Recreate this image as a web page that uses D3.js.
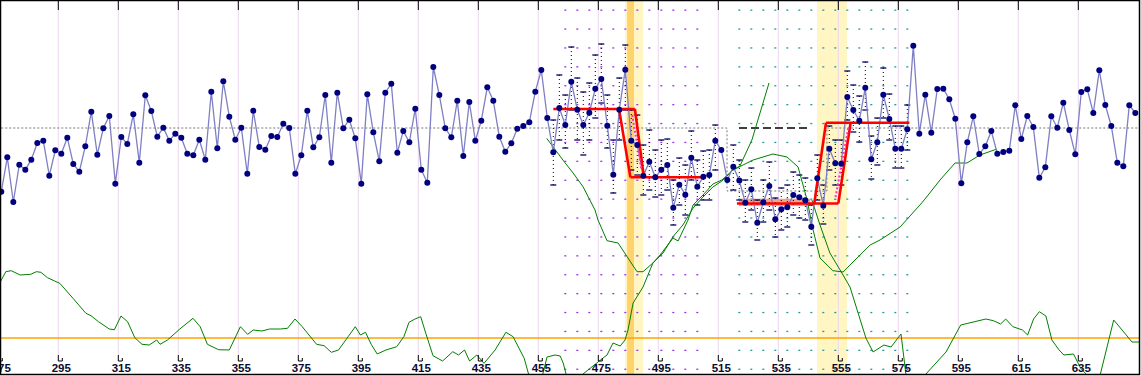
<!DOCTYPE html>
<html>
<head>
<meta charset="utf-8">
<script src="https://cdn.jsdelivr.net/npm/d3@7"></script>
<style>
body{margin:0;background:#fff}
svg{display:block}
.lbl{font-family:"Liberation Sans",Arial,sans-serif;font-weight:bold;font-size:11.5px;fill:#0a0a30}
</style>
</head>
<body>
<script>
// observations, one every 2 units starting at 275
var firstX=275, stepX=2
var obs=[0.83,4.27,-0.2,3.53,3.03,4.03,5.7,5.93,2.43,4.97,
4.63,6.23,3.6,2.83,5.37,8.83,4.53,7.17,8.4,1.63,
6.3,5.6,8.57,3.73,10.47,8.9,6.33,7.23,5.93,6.63,
6.23,4.63,4.47,6.03,4.03,10.83,5.17,11.87,8.33,6.03,
7.23,2.63,8.93,5.3,5.03,6.4,6.3,7.63,7.2,2.63,
4.47,8.93,5.27,6.27,10.5,3.73,10.73,7.17,8.03,6.17,
1.63,10.57,6.77,3.87,10.73,11.63,4.73,6.9,5.77,9.13,
3.03,1.73,13.3,10.5,7.17,6.27,9.93,4.4,9.8,5.93,
7.93,11.27,9.93,6.33,4.83,5.67,7.13,7.4,7.77,10.83,
13,8.2,4.77,9.2,7.5,11.83,9.03,7.5,8.73,11.13,
12.1,7.43,2.53,9.03,13.03,5.93,5.5,2.43,3.83,2.27,
3.03,3.5,-0.77,1.53,0.53,4.23,1.33,2.33,2.5,5.93,
5,2,3.33,1.95,-0.27,1.07,-2.27,-0.23,1.4,-1.93,
-0.93,-0.73,0.5,0.27,-0.03,-2.67,2.17,-0.57,5.13,3.67,
3.63,10.3,9,7.93,11.23,4.07,5.77,10.53,8.1,5.13,
5.13,7.07,15.43,6.63,10.53,6.73,11.1,11.13,10.07,8.13,
1.67,5.77,8.37,4.6,5.37,6.9,4.63,4.8,4.93,9.47,
6.1,8.4,7.3,2.23,3.27,8.37,7.23,9.73,7,4.57,
10.8,11.07,8.7,12.97,9.5,7.4,3.73,3.37,9.47,8.7]

// ranges around the points near the two shifts (first index, highs, lows)
var rangeStart1=92
var rangeHi1=[8,12.5,10.5,15.3,12.2,10.8,11.7,14.5,15.6,10.5,6,12.2,15.5,9,8.5,5.5,7,5,6,6.1,2,4.2,3.5,6.9,4,4.9,5,7.5]
var rangeLo1=[1.5,6,5.2,9,6,4.5,6,8.2,9.7,5.2,0.7,6,9,3,2.5,0.5,1,0.3,0.5,1,-2.5,-0.5,-1.5,2,-0.5,0,0,3]
var rangeStart2=122
var rangeHi2=[5.5,4,2,3.2,0,2,3.8,0.2,1.2,1.5,2.8,2.5,2.2,-0.5,4.5,1.5,7.4,6,6,12.9,11.5,10.4,13.8,6.4,8.2,13.2,10.6,7.4,7.4,9.5]
var rangeLo2=[1,0,-2.2,-1,-4,-2.2,-1,-3.7,-3,-2.7,-1.5,-1.8,-2,-4.5,0,-2.4,3,1.5,1.5,8,6.8,5.8,9,2.1,3.5,8.2,6,3.2,3.2,5]

var tickValues=d3.range(275,636,20)

// overall mean, with the dip for the low segment
var meanLine=[[275,7.2],[516.9,7.2],[516.9,0.9],[550.2,0.9],[550.2,7.2],[655,7.2]]
var oldMean=[[520.9,7.2],[544.9,7.2]]
var threshold=-13.8

// green statistic line (clipped at the frame)
var statA=[[274.6,-8.23],[276.5,-7.17],[278.3,-7.07],[281.3,-7.5],[284.8,-7.43],[286.7,-7.17],[288.2,-7.23],
[290.4,-7.77],[292.8,-8.1],[294.5,-8.33],[298.9,-9.83],[303.2,-11.33],[304.9,-11.57],[307.4,-12.17],[311,-12.9],
[312.7,-12.97],[314.9,-11.6],[317.1,-12.17],[319.5,-13.77],[321.9,-14.43],[324.3,-14.5],[326.8,-14],[327.9,-14.43],
[330.4,-14],[334.5,-12.9],[338.9,-11.83],[341.3,-12.67],[343.7,-14.43],[347.4,-14.97],[351,-15],[354.7,-12.67],
[357.1,-13.43],[359,-13],[361.9,-13.1],[364.4,-12.9],[368,-12.9],[370.4,-12.83],[372.9,-11.9],[375.3,-12.67],
[380.1,-14.43],[382.6,-14.57],[385,-15.23],[387.4,-15],[390.6,-13.67],[393,-12.67],[394.7,-13.5],[396.4,-13.23],
[398.3,-14.43],[400.3,-15.4],[403.2,-15],[406.8,-14.67],[409.2,-13.67],[410.9,-12.23],[412.9,-11.9],[414.8,-11.67],
[416.5,-13.33],[418.9,-15.57],[422.1,-16.1],[425.5,-15.17],[427.4,-15.5],[429.4,-15],[431.1,-16.1],[433.5,-15.5],
[435.9,-16.33],[439.6,-15],[443.2,-13.23],[445.6,-13.67],[449.3,-15.83],[451.3,-18],[454.6,-18.5],[456.9,-15.7],
[459.6,-15.5],[461.3,-15.6],[462.3,-16.3],[464.6,-19],[467.3,-19],[468.9,-17.4],[473.9,-16.2],[476.9,-15.5],
[478.9,-14.3],[481.3,-14.6],[482.9,-14],[483.9,-13],[485.6,-10.3],[488.9,-8.7],[492.2,-6.3],[494.6,-5.5],
[498.9,-3.8],[500.6,-4.1],[503.9,-2],[505.6,-0.5],[508.9,0.5],[512.2,1.6],[515.2,2],[518.9,3],[521.2,3.4],
[525.2,6],[527.9,8.7],[530.9,11.7]]
var statB=[[545.2,0],[547.9,-2.5],[551.2,-5.3],[554.6,-7],[557.9,-8.7],[563.2,-13.8],[565.6,-15.2],[569.2,-14.5],
[571.6,-14.7],[574.9,-13.4],[576.6,-17.6],[578.6,-20],[581.2,-20],[582.6,-17.6],[589.9,-15.2],[594.8,-12.5],
[597.2,-12.33],[603.2,-11.9],[605.7,-12.07],[608.1,-12.4],[609.8,-11.9],[612.2,-12.67],[615.4,-13],[617.1,-13.5],
[619.1,-11.9],[621,-11.17],[623.2,-11.6],[625.2,-14],[627.6,-15],[629.2,-15.5],[632.4,-15.4],[634.8,-16.83],
[637.2,-17.6],[639.2,-19.5],[641.2,-17.6],[645.8,-12],[648.6,-13],[651.9,-14.2],[654.9,-14.2]]
var smooth=[[456.8,6.17],[458.9,5.33],[462.2,4],[465.6,2.7],[468.9,1.33],[472.9,-1],[473.9,-2],[476.9,-4.07],
[480.6,-4.3],[483.6,-5.67],[486.9,-7.17],[488.9,-7.17],[492.2,-6.3],[495.6,-5.3],[498.9,-3.67],[502.2,-2.5],
[505.6,-0.8],[508.9,0.3],[512.2,1.3],[515.2,1.9],[518.9,3],[525.6,4],[532.2,4.6],[536.9,4.3],[540.6,3.3],
[543.6,0],[545.6,-3],[547.9,-5.8],[552.2,-7.07],[555.6,-7.2],[558.9,-6.2],[564.6,-4.5],[567.9,-4],[574.6,-2.7],
[581.2,-0.5],[582.9,0.1],[587.9,2],[592.9,3.7],[596.9,3.7],[601.2,4.5],[606.9,5.1]]

// fitted shifts (red)
var fit1=[[[459.0,9.1],[486.2,9.1]],[[480.9,9.1],[484.7,2.27]],[[486.2,9.1],[489.2,2.27]],[[484.7,2.27],[509.6,2.27]]]
var fit2=[[[520.2,-0.35],[554,-0.35]],[[546,-0.35],[549.9,7.73]],[[554,-0.35],[558.1,7.73]],[[549.9,7.73],[577.7,7.73]]]
var shiftPaths=[[[485.3,8.5],[488.4,3.0]],[[557.3,7.17],[552.9,0]]]
var segBar={x0:520.9,x1:544.7,v0:0.13,v1:-0.6}

// change point bands
var bands=[{x0:482.9,x1:488.9,c:"#fff6c4"},{x0:483.6,x1:485.9,c:"#ffd36b"},{x0:546.9,x1:556.9,c:"#fff6c4"}]
var zones=[{k0:94,k1:117,c:"#9b30f0"},{k0:123,k1:151,c:"#1e9c9c"}]

var W=1141,H=376
var x=d3.scaleLinear().domain([275,655]).range([1.3,1141.3])
var y=d3.scaleLinear().domain([-17.6,20]).range([376,0])

var svg=d3.select("body").append("svg").attr("width",W).attr("height",H)
svg.append("rect").attr("width",W).attr("height",H).attr("fill","#fff")

svg.append("defs").append("clipPath").attr("id","plot")
  .append("rect").attr("x",1).attr("y",1).attr("width",W-3).attr("height",H-3)

var g=svg.append("g").attr("clip-path","url(#plot)")

bands.forEach(function(b){
  g.append("rect").attr("x",x(b.x0)).attr("y",0).attr("width",x(b.x1)-x(b.x0)).attr("height",H).attr("fill",b.c)
})

// grid
tickValues.forEach(function(t){
  g.append("line").attr("x1",x(t)-3).attr("x2",x(t)-3).attr("y1",0).attr("y2",355)
   .attr("stroke","#ecd6ef").attr("stroke-width",1)
})

// dotted zones
var rows=d3.range(9.5,376,18.9)
zones.forEach(function(z){
  for(var k=z.k0;k<=z.k1;k+=2){
    var cx=x(firstX+stepX*k)
    rows.forEach(function(r){
      g.append("rect").attr("x",cx-1).attr("y",r).attr("width",2).attr("height",1.3).attr("fill",z.c)
    })
  }
})

var line=d3.line().x(function(d){return x(d[0])}).y(function(d){return y(d[1])})

g.append("line").attr("x1",0).attr("x2",W).attr("y1",y(threshold)).attr("y2",y(threshold))
 .attr("stroke","#ffa500").attr("stroke-width",1.5)

g.append("path").attr("d",line(meanLine)).attr("fill","none").attr("stroke","#777").attr("stroke-dasharray","2,2")
g.append("path").attr("d",line(oldMean)).attr("fill","none").attr("stroke","#000").attr("stroke-width",1.3).attr("stroke-dasharray","8,4")

g.append("rect").attr("x",x(segBar.x0)).attr("y",y(segBar.v0)).attr("width",x(segBar.x1)-x(segBar.x0))
 .attr("height",y(segBar.v1)-y(segBar.v0)).attr("fill","#e8967a").attr("opacity",0.85)

// ranges
function drawRanges(start,hi,lo){
  hi.forEach(function(h,i){
    var cx=x(firstX+stepX*(start+i))
    g.append("line").attr("x1",cx).attr("x2",cx).attr("y1",y(h)).attr("y2",y(lo[i]))
     .attr("stroke","#000").attr("stroke-width",1).attr("stroke-dasharray","1,3")
    ;[h,lo[i]].forEach(function(v){
      g.append("line").attr("x1",cx-3).attr("x2",cx+3).attr("y1",y(v)).attr("y2",y(v))
       .attr("stroke","#000060").attr("stroke-width",1.3)
    })
  })
}
drawRanges(rangeStart1,rangeHi1,rangeLo1)
drawRanges(rangeStart2,rangeHi2,rangeLo2)

;[statA,statB,smooth].forEach(function(s){
  g.append("path").attr("d",line(s)).attr("fill","none").attr("stroke","#008000").attr("stroke-width",1)
})

var pts=obs.map(function(v,i){return [firstX+stepX*i,v]})
g.append("path").attr("d",line(pts)).attr("fill","none").attr("stroke","#7f7fc4").attr("stroke-width",1.3)

fit1.concat(fit2).forEach(function(s){
  g.append("path").attr("d",line(s)).attr("fill","none").attr("stroke","#ff0000").attr("stroke-width",2.6)
})
shiftPaths.forEach(function(s){
  g.append("path").attr("d",line(s)).attr("fill","none").attr("stroke","#ff33bb").attr("stroke-width",2).attr("stroke-dasharray","2,2")
})

g.selectAll("circle.pt").data(pts).enter().append("circle").attr("class","pt")
 .attr("cx",function(d){return x(d[0])}).attr("cy",function(d){return y(d[1])}).attr("r",3).attr("fill","#000080")

// axis ticks and labels
tickValues.forEach(function(t){
  var gx=x(t)-3
  svg.append("path").attr("d","M"+gx+",355V361H"+(gx+4)+"V358").attr("fill","none").attr("stroke","#000").attr("stroke-width",1)
  svg.append("line").attr("x1",gx).attr("x2",gx).attr("y1",0).attr("y2",10).attr("stroke","#000")
  svg.append("text").attr("class","lbl").attr("x",x(t)).attr("y",372).attr("text-anchor","middle").text(t)
})

svg.append("rect").attr("x",0.5).attr("y",0.5).attr("width",W-2).attr("height",H-2).attr("fill","none").attr("stroke","#000").attr("stroke-width",1.5)
</script>
</body>
</html>
